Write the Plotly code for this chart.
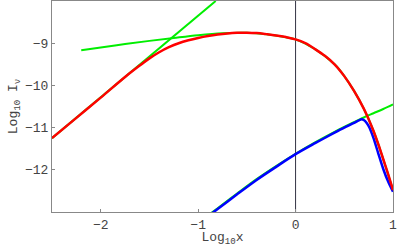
import plotly.graph_objects as go

# Low-frequency asymptote (slope ~2)
g1_x = [-2.5, -0.82]
g1_y = [-11.25, -8.0]

# x^(1/3)-type approximation (green, under red)
g2_x = [-2.2, -2.0, -1.75, -1.5, -1.25, -1.0, -0.75, -0.5, -0.3, -0.1, 0.0, 0.2, 0.4, 0.5, 0.6, 0.7, 0.8, 0.9, 1.0]
g2_y = [-9.165, -9.10, -9.02, -8.945, -8.875, -8.81, -8.765, -8.755, -8.79, -8.86, -8.91, -9.14, -9.50, -9.78, -10.13, -10.55, -11.08, -11.75, -12.48]

# lower green curve
g3_x = [-0.95, -0.8, -0.6, -0.4, -0.2, 0.0, 0.2, 0.4, 0.6, 0.7, 0.8, 0.9, 1.0]
g3_y = [-13.17, -12.91, -12.56, -12.22, -11.91, -11.62, -11.35, -11.10, -10.87, -10.76, -10.66, -10.56, -10.45]

# blue curve
b_x = [-0.95, -0.8, -0.6, -0.4, -0.2, 0.0, 0.2, 0.4, 0.5, 0.6, 0.65, 0.677, 0.70, 0.73, 0.76, 0.8, 0.85, 0.9, 0.95, 1.0]
b_y = [-13.19, -12.93, -12.58, -12.24, -11.93, -11.63, -11.37, -11.12, -11.00, -10.89, -10.83, -10.80, -10.82, -10.89, -11.01, -11.25, -11.62, -11.98, -12.28, -12.52]

# red curve
r_x = [-2.5, -2.25, -2.0, -1.75, -1.6, -1.5, -1.4, -1.3, -1.2, -1.1, -1.0, -0.9, -0.8, -0.7, -0.6, -0.5, -0.4,
       -0.3, -0.2, -0.1, 0.0, 0.1, 0.2, 0.3, 0.4, 0.5, 0.6, 0.7, 0.75, 0.8, 0.85, 0.9, 0.95, 1.0]
r_y = [-11.25, -10.77, -10.29, -9.80, -9.53, -9.36, -9.215, -9.095, -9.00, -8.93, -8.875, -8.83, -8.795,
       -8.77, -8.755, -8.75, -8.76, -8.785, -8.815, -8.855, -8.91, -9.00, -9.14, -9.30, -9.50, -9.78,
       -10.13, -10.55, -10.80, -11.08, -11.40, -11.75, -12.10, -12.48]

x_ticks = [-2, -1, 0, 1]
y_ticks = [-9, -10, -11, -12]

fig = go.Figure()
green = "#00ee00"
fig.add_trace(go.Scatter(x=g1_x, y=g1_y, mode="lines", line=dict(color=green, width=2)))
fig.add_trace(go.Scatter(x=g2_x, y=g2_y, mode="lines", line=dict(color=green, width=2, shape="spline")))
fig.add_trace(go.Scatter(x=g3_x, y=g3_y, mode="lines", line=dict(color=green, width=2, shape="spline")))
fig.add_trace(go.Scatter(x=b_x, y=b_y, mode="lines", line=dict(color="#0000ff", width=2.5, shape="spline", smoothing=0.8)))
fig.add_trace(go.Scatter(x=r_x, y=r_y, mode="lines", line=dict(color="#ff0000", width=2.5, shape="spline")))

fig.add_vline(x=0, line=dict(color="#333344", width=1), layer="below")

axis_font = dict(family="Liberation Mono, Courier New, monospace", size=13, color="#444444")
fig.update_layout(
    width=400, height=247,
    margin=dict(l=52, r=7, t=1, b=35),
    paper_bgcolor="white", plot_bgcolor="white",
    showlegend=False,
    xaxis=dict(range=[-2.5, 1], tickvals=x_ticks, ticktext=["\u22122", "\u22121", "0", "1"],
               ticks="inside", ticklen=3, tickcolor="#888888", automargin=False,
               showline=True, linecolor="#888888", linewidth=1, mirror=True,
               showgrid=False, zeroline=False, tickfont=axis_font,
               title=dict(text="Log<sub>10</sub>x", font=axis_font, standoff=2)),
    yaxis=dict(range=[-13, -8], tickvals=y_ticks, ticktext=["\u22129", "\u221210", "\u221211", "\u221212"],
               ticks="inside", ticklen=3, tickcolor="#888888", automargin=False,
               showline=True, linecolor="#888888", linewidth=1, mirror=True,
               showgrid=False, zeroline=False, tickfont=axis_font,
               title=dict(text="Log<sub>10</sub> I<sub>\u03bd</sub>", font=axis_font, standoff=4)),
)
fig.write_html("out.html", config={"displayModeBar": False, "staticPlot": True},
               post_script="document.body.style.margin='0';document.body.style.overflow='hidden';")
